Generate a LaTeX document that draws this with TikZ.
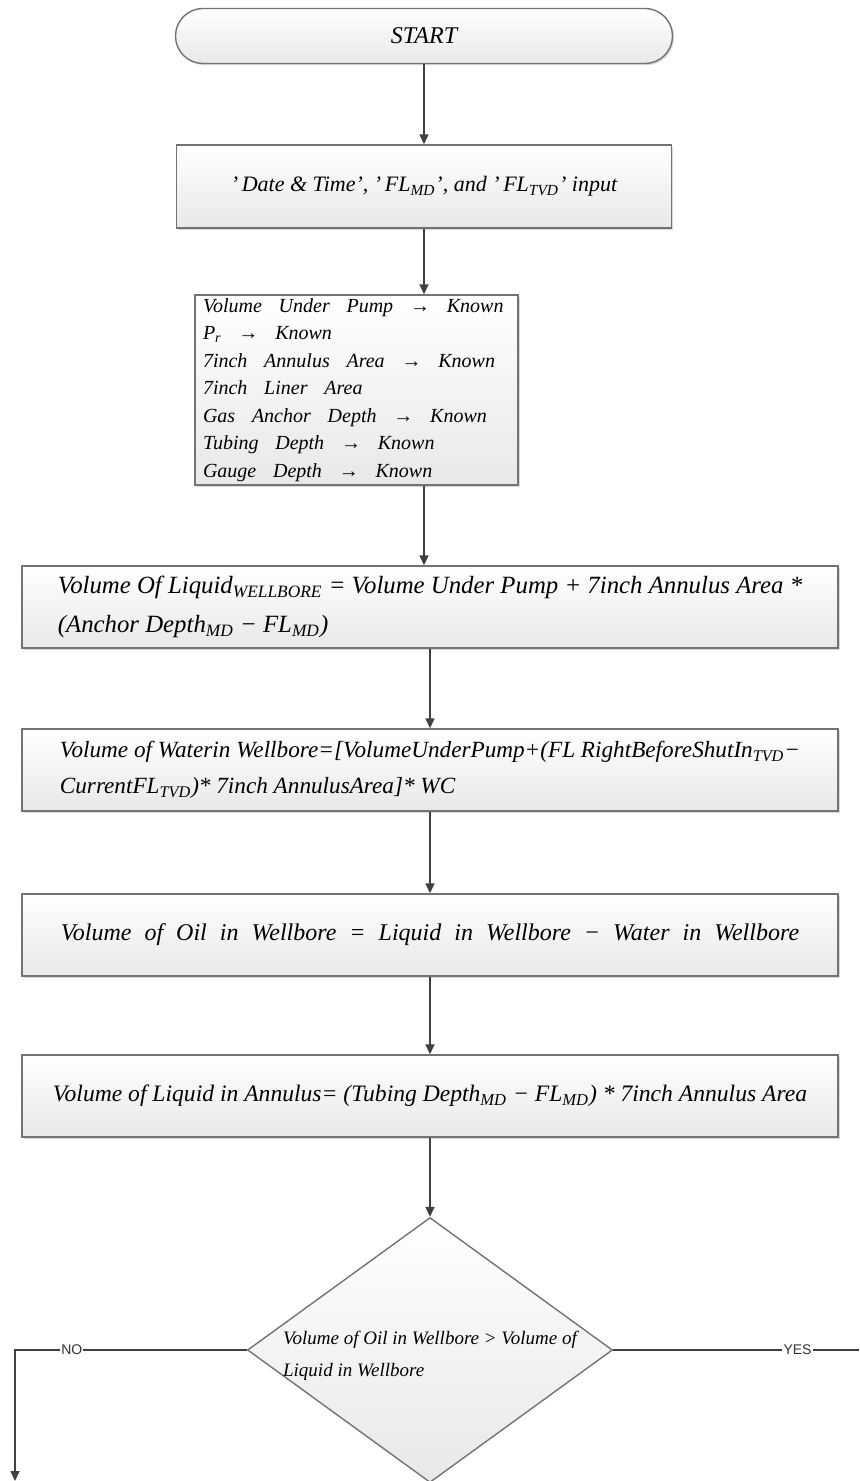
\documentclass[tikz,border=0pt]{standalone}
\usepackage{fontspec}
\setmainfont{Liberation Serif}
\setsansfont{Liberation Sans}
\usetikzlibrary{shapes.misc,shapes.geometric,arrows.meta,shadows}
\newcommand\sub[1]{\textsubscript{#1}}
\newcommand\widesp[1]{\spaceskip=#1\relax}
\tikzset{
  fillgrad/.style={draw=black!55, line width=0.7pt, top color=white, bottom color=black!9},
  box/.style={rectangle, fillgrad, drop shadow={opacity=0.3, shadow xshift=0.8pt, shadow yshift=-0.8pt}, inner sep=0pt},
  arr/.style={draw=black!75, line width=0.8pt, -{Triangle[length=5pt,width=4.5pt]}},
  plain/.style={draw=black!75, line width=0.8pt},
  lbl/.style={font=\sffamily\fontsize{7}{8}\selectfont, fill=white, inner sep=0.6pt, text=black!80},
}
\begin{document}
\begin{tikzpicture}[x=0.5pt,y=-0.5pt]
\useasboundingbox (0,0) rectangle (859,1481);

\node[box, rounded rectangle, minimum width=248.5pt, minimum height=27.5pt,
      font=\fontsize{12}{14}\selectfont\itshape] (start) at (424,36) {START};

\node[box, minimum width=247.5pt, minimum height=41.5pt,
      font=\fontsize{11}{13}\selectfont\itshape] (input) at (424,186.5)
  {'\,Date \& Time', '\,FL\sub{MD}', and '\,FL\sub{TVD}' input};

\node[box, minimum width=161.5pt, minimum height=95pt, text width=153.5pt, inner xsep=4pt,
      align=left, font=\fontsize{10}{13.75}\selectfont\itshape] (list) at (356.5,390)
  {\widesp{0.84em}Volume Under Pump → Known\\
   P\sub{r} → Known\\
   7inch Annulus Area → Known\\
   7inch Liner Area\\
   Gas Anchor Depth → Known\\
   Tubing Depth → Known\\
   Gauge Depth → Known};

\node[box, minimum width=408pt, minimum height=41pt, align=left,
      font=\fontsize{12.4}{19.5}\selectfont\itshape] (b4) at (430,607)
  {Volume Of Liquid\sub{WELLBORE} = Volume Under Pump + 7inch Annulus Area *\\
   (Anchor Depth\sub{MD} − FL\sub{MD})};

\node[box, minimum width=408pt, minimum height=41pt, align=left,
      font=\fontsize{11.6}{18}\selectfont\itshape] (b5) at (430,770)
  {Volume of Waterin Wellbore=[VolumeUnderPump+(FL RightBeforeShutIn\sub{TVD}−\\
   CurrentFL\sub{TVD})* 7inch AnnulusArea]* WC};

\node[box, minimum width=408pt, minimum height=41pt,
      font=\fontsize{12}{14}\selectfont\itshape] (b6) at (430,935)
  {\widesp{6.5pt}Volume of Oil in Wellbore = Liquid in Wellbore − Water in Wellbore};

\node[box, minimum width=408pt, minimum height=41pt,
      font=\fontsize{11.8}{14}\selectfont\itshape] (b7) at (430,1096)
  {Volume of Liquid in Annulus= (Tubing Depth\sub{MD} − FL\sub{MD}) * 7inch Annulus Area};

\node[diamond, fillgrad, minimum width=182.5pt, minimum height=132.5pt, inner sep=0pt] (dq) at (430,1350) {};
\node[align=left, font=\fontsize{9.5}{16}\selectfont\itshape, inner sep=0pt, yshift=-3pt] (dqt) at (dq.center)
  {Volume of Oil in Wellbore > Volume of\\Liquid in Wellbore};

\draw[arr] (start.south) -- (input.north);
\draw[arr] (input.south) -- (input.south |- list.north);
\draw[arr] (input.south |- list.south) -- (input.south |- b4.north);
\draw[arr] (b4.south) -- (b5.north);
\draw[arr] (b5.south) -- (b6.north);
\draw[arr] (b6.south) -- (b7.north);
\draw[arr] (b7.south) -- (dq.north);

\coordinate (nocorner) at (15,1350);
\coordinate (noend) at (15,1481);
\coordinate (yesend) at (859,1350);
\draw[arr] (dq.west) -- node[lbl, pos=0.755] {NO} (nocorner) -- (noend);
\draw[plain] (dq.east) -- node[lbl, pos=0.75] {YES} (yesend);
\end{tikzpicture}
\end{document}
